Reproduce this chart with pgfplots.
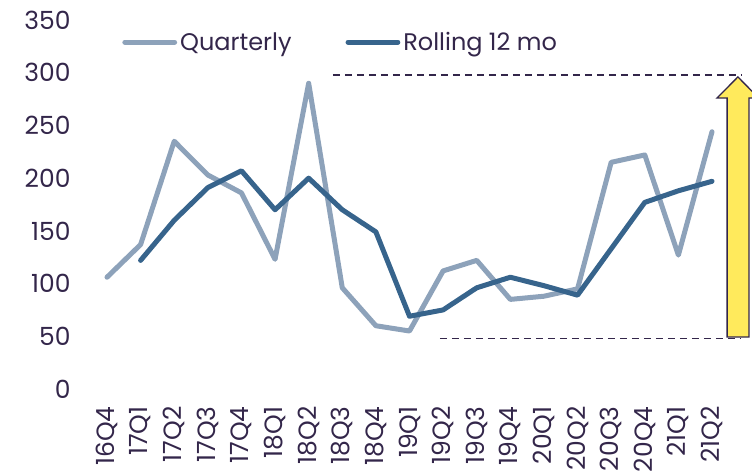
\documentclass[border=0pt]{standalone}
\usepackage{fontspec}
\setmainfont{Poppins}
\usepackage{pgfplots}
\pgfplotsset{compat=1.18}

\definecolor{qcol}{HTML}{8DA2BA}
\definecolor{rcol}{HTML}{37648C}
\definecolor{txt}{HTML}{33264A}
\definecolor{arrowy}{HTML}{FFEA5C}

\begin{document}
\begin{tikzpicture}
\begin{axis}[
    scale only axis,
    width=605pt, height=369pt,
    xmin=0, xmax=18, ymin=0, ymax=350,
    clip=false,
    axis line style={draw=none},
    major tick length=0pt,
    xtick={0,...,18},
    xticklabels={16Q4,17Q1,17Q2,17Q3,17Q4,18Q1,18Q2,18Q3,18Q4,19Q1,19Q2,19Q3,19Q4,20Q1,20Q2,20Q3,20Q4,21Q1,21Q2},
    xticklabel shift=14pt,
    xticklabel style={rotate=90, anchor=east, text=txt,
        font=\fontsize{25}{25}\selectfont},
    ytick={0,50,...,350},
    yticklabel style={xshift=-33pt, text=txt, font=\fontsize{25}{25}\selectfont},
    /pgf/number format/assume math mode=true,
    legend style={at={(axis cs:0.45,329)}, anchor=west, draw=none, fill=none,
        inner sep=0pt, text=txt, font=\fontsize{24}{24}\selectfont,
        nodes={inner sep=3pt},
        /tikz/every even column/.append style={column sep=51pt}},
    legend columns=2,
    legend cell align=left,
    legend image code/.code={\draw[#1, line width=5pt, line cap=round] (0cm,0cm) -- (1.75cm,0cm);},
]
\addplot[qcol, line width=5pt, line cap=round, line join=round] coordinates {
    (0,106) (1,137) (2,235) (3,203) (4,186) (5,123) (6,290) (7,96) (8,60)
    (9,55) (10,112) (11,122) (12,85) (13,88) (14,95) (15,215) (16,222)
    (17,127) (18,244)
};
\addlegendentry{Quarterly}
\addplot[rcol, line width=5pt, line cap=round, line join=round] coordinates {
    (1,122) (2,160) (3,191) (4,207) (5,170) (6,200) (7,170) (8,149)
    (9,69) (10,75) (11,96) (12,106) (13,98) (14,89) (15,133) (16,177)
    (17,188) (18,197)
};
\addlegendentry{Rolling 12 mo}

\draw[txt, line width=1.6pt, dash pattern=on 7pt off 5pt]
    (axis cs:6.72,298) -- (axis cs:18.9,298);
\draw[txt, line width=1.6pt, dash pattern=on 7pt off 5pt]
    (axis cs:9.9,48) -- (axis cs:18.83,48);
\draw[txt, line width=1.3pt, fill=arrowy, line join=miter]
    (axis cs:18.45,49.3) -- (axis cs:18.45,276) -- (axis cs:18.15,276)
    -- (axis cs:18.77,296) -- (axis cs:19.39,276) -- (axis cs:19.10,276)
    -- (axis cs:19.10,49.3) -- cycle;
\coordinate (O) at (axis cs:0,0);
\end{axis}
\pgfresetboundingbox
\path[use as bounding box] (O) ++(-107pt,-87pt) rectangle ++(752pt,476pt);
\end{tikzpicture}
\end{document}
